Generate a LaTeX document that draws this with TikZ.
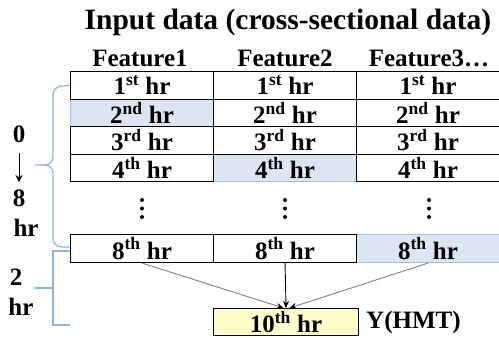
\documentclass[tikz,border=0pt]{standalone}
\usepackage{fontspec}
\setmainfont{Liberation Serif}
\usetikzlibrary{arrows.meta}
\definecolor{hlfill}{HTML}{DCE6F2}
\definecolor{hldraw}{HTML}{9DC3E6}
\definecolor{brk}{HTML}{8DB3E2}
\definecolor{yfill}{HTML}{FFFFCC}
\tikzset{
  cell/.style={draw=black, line width=1.1pt, minimum width=143pt, minimum height=27.5pt,
    inner sep=0pt, anchor=north west, font=\fontsize{25}{25}\selectfont\bfseries},
  hlcell/.style={cell, fill=hlfill, draw=hldraw},
  lbl/.style={font=\fontsize{25}{25}\selectfont\bfseries, inner sep=0pt},
  brace/.style={draw=brk, line width=1.2pt},
  conn/.style={draw=gray, line width=0.9pt, -{Stealth[black,length=7pt,width=6pt]}},
  dot/.style={circle, fill=black, inner sep=0pt, minimum size=4pt}
}
\begin{document}
\begin{tikzpicture}[x=1pt,y=-1pt]
\useasboundingbox (0,0) rectangle (499,338);
\clip (0,0) rectangle (499,338);
% title and headers
\node[lbl, font=\fontsize{29.5}{29.5}\selectfont\bfseries] (title) at (288,22) {Input data (cross-sectional data)};
\node[lbl] (h1) at (140,58) {Feature1};
\node[lbl] (h2) at (285,58) {Feature2};
\node[lbl] (h3) at (429,58) {Feature3…};
% highlighted cells first
\node[hlcell] (c21) at (70,98.5) {2\textsuperscript{nd} hr};
\node[hlcell] (c42) at (213,153.5) {4\textsuperscript{th} hr};
\node[hlcell, minimum height=28pt] (c83) at (356,234) {8\textsuperscript{th} hr};
% plain cells
\node[cell] (c11) at (70,71) {1\textsuperscript{st} hr};
\node[cell] (c12) at (213,71) {1\textsuperscript{st} hr};
\node[cell] (c13) at (356,71) {1\textsuperscript{st} hr};
\node[cell] (c22) at (213,98.5) {2\textsuperscript{nd} hr};
\node[cell] (c23) at (356,98.5) {2\textsuperscript{nd} hr};
\node[cell] (c31) at (70,126) {3\textsuperscript{rd} hr};
\node[cell] (c32) at (213,126) {3\textsuperscript{rd} hr};
\node[cell] (c33) at (356,126) {3\textsuperscript{rd} hr};
\node[cell] (c41) at (70,153.5) {4\textsuperscript{th} hr};
\node[cell] (c43) at (356,153.5) {4\textsuperscript{th} hr};
\node[cell, minimum height=28pt] (c81) at (70,234) {8\textsuperscript{th} hr};
\node[cell, minimum height=28pt] (c82) at (213,234) {8\textsuperscript{th} hr};
% dots
\foreach \x/\n in {142/a,285/b,429/c}{
  \node[dot] (d\n1) at (\x,200) {};
  \node[dot] (d\n2) at (\x,208.5) {};
  \node[dot] (d\n3) at (\x,217) {};
}
% target
\node[cell, fill=yfill, minimum width=145pt, minimum height=27pt] (t) at (213,308) {10\textsuperscript{th} hr};
\node[lbl, anchor=west] (y) at (366,322) {Y(HMT)};
% connectors
\coordinate (tl) at ([xshift=-2.5pt]t.north);
\coordinate (tr) at ([xshift=3.5pt]t.north);
\draw[conn] (c81.south) -- (tl);
\draw[conn] (c83.south) -- (tr);
\draw[conn, draw=black] (c82.south) -- (t.north);
% left labels
\node[lbl] (l0) at (19,134) {0};
\node[lbl] (l8) at (19,198) {8};
\node[lbl] (lhr1) at (26,228) {hr};
\coordinate (as) at (19,153);
\coordinate (ae) at (19,182);
\draw[line width=1pt, -{Stealth[length=7pt,width=7pt]}] (as) -- (ae);
\node[lbl] (l2) at (16,277) {2};
\node[lbl] (lhr2) at (21,307) {hr};
% braces
\coordinate (b1tick) at (35,165);
\draw[brace] (c11.west) -- (62,86) to[out=180,in=90] (53,95) -- (53,157)
  to[out=-90,in=0] (45,165) -- (b1tick);
\draw[brace] (45,165) to[out=0,in=90] (53,173) -- (53,239)
  to[out=-90,in=180] (62,247) -- (70,247);
\coordinate (b2tick) at (35,288);
\draw[brace] (70,251) -- (53,251) -- (53,325) -- (70,325);
\draw[brace] (b2tick) -- (53,288);
\end{tikzpicture}
\end{document}
